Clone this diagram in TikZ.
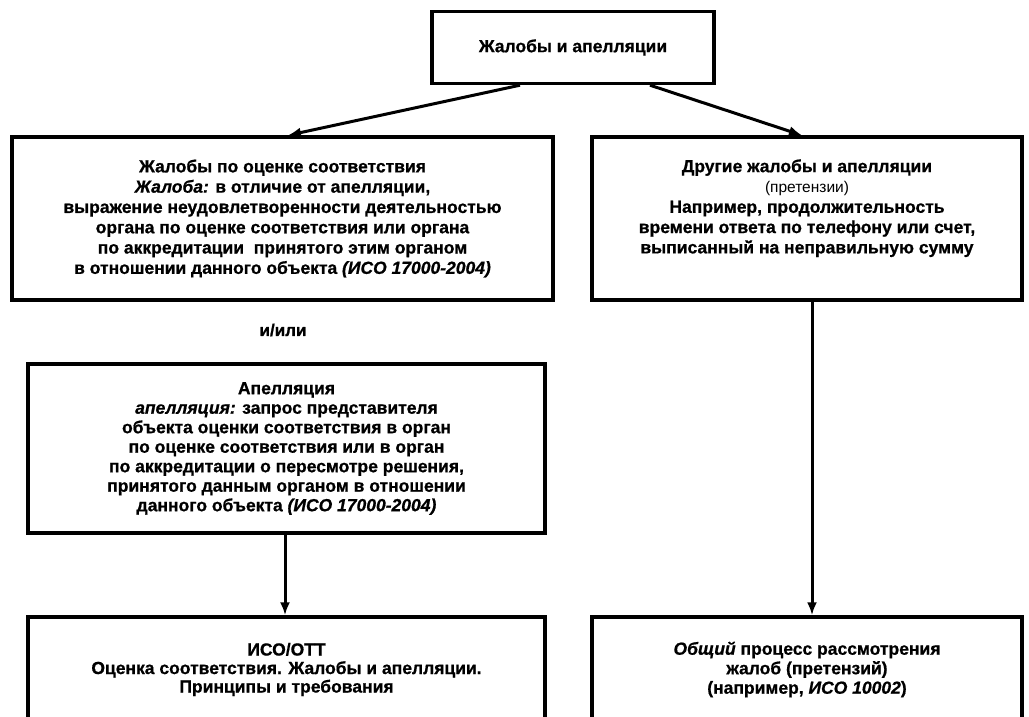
\documentclass[tikz,border=0pt]{standalone}
\usepackage{fontspec}
\setmainfont{Liberation Sans}[BoldFeatures={FakeBold=0.8},BoldItalicFeatures={FakeBold=0.8}]
\usetikzlibrary{arrows.meta}
\tikzset{
  box/.style={draw=black, line width=3.4pt, inner sep=0pt, align=center,
    font=\bfseries\fontsize{17.5}{20.3}\selectfont},
  conn/.style={line width=3pt, -{Latex[length=13pt,width=10pt]}},
  plain/.style={inner sep=0pt, font=\bfseries\fontsize{17}{20}\selectfont}
}
\begin{document}
\begin{tikzpicture}[x=1pt,y=-1pt]
\useasboundingbox[fill=white] (0,0) rectangle (1029,717);
\node[box, minimum width=282pt, minimum height=72pt] (top) at (573,47.5) {Жалобы и апелляции};
\node[box, minimum width=541pt, minimum height=163pt] (l1) at (282.5,218.5) {Жалобы по оценке соответствия\\
\textit{Жалоба:} в отличие от апелляции,\\
выражение неудовлетворенности деятельностью\\
органа по оценке соответствия или органа\\
по аккредитации\ \ принятого этим органом\\
в отношении данного объекта \textit{(ИСО 17000-2004)}};
\node[box, minimum width=430pt, minimum height=163pt] (r1) at (807,218.5) {Другие жалобы и апелляции\\
{\mdseries\fontsize{15.5}{17}\selectfont (претензии)}\\
Например, продолжительность\\
времени ответа по телефону или счет,\\
выписанный на неправильную сумму\\[4pt]\mbox{}};
\node[plain] (andor) at (283,330) {и/или};
\node[box, minimum width=517pt, minimum height=169pt, font=\bfseries\fontsize{17.5}{19.5}\selectfont] (ap) at (286.5,448.5) {Апелляция\\
\textit{апелляция:} запрос представителя\\
объекта оценки соответствия в орган\\
по оценке соответствия или в орган\\
по аккредитации о пересмотре решения,\\
принятого данным органом в отношении\\
данного объекта \textit{(ИСО 17000-2004)}};
\node[box, minimum width=517pt, minimum height=105pt, font=\bfseries\fontsize{17.5}{18.5}\selectfont] (bl) at (286.5,669.5) {ИСО/ОТТ\\
Оценка соответствия. Жалобы и апелляции.\\
Принципы и требования};
\node[box, minimum width=430pt, minimum height=105pt, font=\bfseries\fontsize{17.5}{19.5}\selectfont] (br) at (807,669.5) {\textit{Общий} процесс рассмотрения\\
жалоб (претензий)\\
(например, \textit{ИСО 10002})};
\draw[conn] ([xshift=-53pt]top.south) -- ([xshift=5.5pt]l1.north);
\draw[conn] ([xshift=77pt]top.south) -- ([xshift=-5pt]r1.north);
\draw[conn] ([xshift=-1.5pt]ap.south) -- ([xshift=-1.5pt]bl.north);
\draw[conn] ([xshift=5pt]r1.south) -- ([xshift=5pt]br.north);
\end{tikzpicture}
\end{document}
